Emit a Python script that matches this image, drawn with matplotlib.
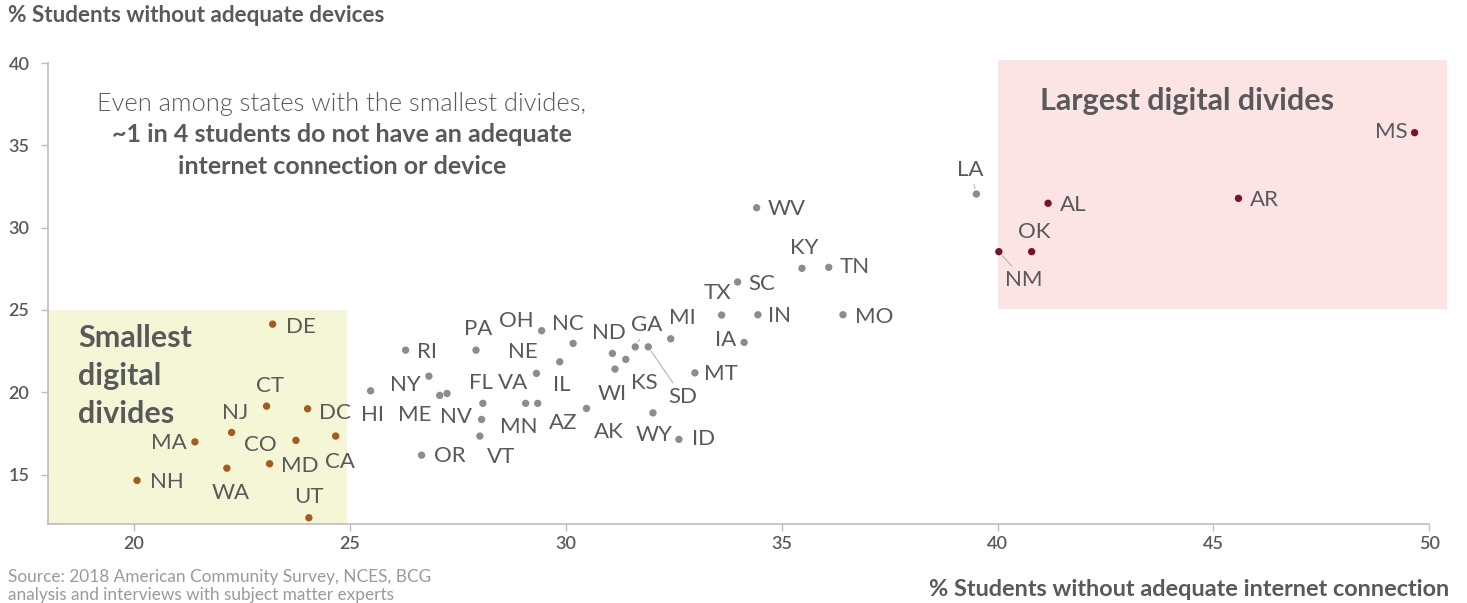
import matplotlib.pyplot as plt
from matplotlib.patches import Rectangle

plt.rcParams['font.family'] = ['Lato', 'DejaVu Sans']

# % students without adequate internet connection (x) / devices (y)
small_states = ['DE', 'CT', 'DC', 'NJ', 'MA', 'CO', 'CA', 'MD', 'WA', 'NH', 'UT']
small_x = [23.21, 23.07, 24.02, 22.26, 21.41, 23.75, 24.67, 23.14, 22.15, 20.07, 24.05]
small_y = [24.14, 19.16, 19.00, 17.56, 16.99, 17.08, 17.34, 15.66, 15.39, 14.65, 12.38]

large_states = ['AL', 'AR', 'NM', 'OK', 'MS']
large_x = [41.17, 45.58, 40.03, 40.79, 49.66]
large_y = [31.48, 31.78, 28.54, 28.54, 35.77]

mid_states = ['LA', 'WV', 'KY', 'TN', 'SC', 'TX', 'IN', 'MO', 'IA', 'MI', 'GA', 'SD',
              'MT', 'WY', 'ID', 'ND', 'KS', 'WI', 'AK', 'AZ', 'IL', 'NE', 'VA', 'NC',
              'OH', 'PA', 'RI', 'NY', 'HI', 'ME', 'NV', 'FL', 'MN', 'VT', 'OR']
mid_x = [39.51, 34.42, 35.47, 36.09, 33.98, 33.61, 34.45, 36.42, 34.13, 32.43, 31.61, 31.91,
         32.99, 32.02, 32.62, 31.08, 31.39, 31.14, 30.48, 29.35, 29.86, 29.32, 29.07, 30.17,
         29.44, 27.92, 26.29, 26.83, 25.48, 27.08, 27.25, 28.08, 28.05, 28.01, 26.66]
mid_y = [32.04, 31.21, 27.53, 27.59, 26.70, 24.69, 24.71, 24.71, 23.03, 23.25, 22.76, 22.76,
         21.18, 18.75, 17.14, 22.36, 22.00, 21.41, 19.02, 19.33, 21.85, 21.15, 19.33, 22.97,
         23.74, 22.56, 22.56, 20.98, 20.09, 19.81, 19.93, 19.33, 18.35, 17.34, 16.18]

# label offsets from the dot, in pixels (layout only)
label_off = {
    'DE': (28.7, -2.7), 'CT': (3.3, 20), 'DC': (27.3, -4.6), 'NJ': (3.3, 19.6),
    'MA': (-25.8, -1), 'CO': (-36, -4.7), 'CA': (4, -25.7), 'MD': (30, -2),
    'WA': (3.5, -24.7), 'NH': (29.4, -1.4), 'UT': (0.4, 21),
    'AL': (24.7, -1.7), 'AR': (25.6, -1.7), 'NM': (25.2, -28.3), 'OK': (3, 20), 'MS': (-23.3, 1),
    'LA': (-6, 24), 'WV': (30.3, -1.6), 'KY': (1.9, 20), 'TN': (25.6, 0), 'SC': (24, -2),
    'TX': (-4.5, 21.7), 'IN': (21.2, -1.3), 'MO': (31.4, -2.6), 'IA': (-18.1, 2.6),
    'MI': (11.5, 20.4), 'GA': (11.8, 21.7), 'SD': (34.2, -50), 'MT': (25.8, -1.3),
    'WY': (0.9, -22.3), 'ID': (24.9, 0), 'ND': (-3, 20.6), 'KS': (19, -23.4),
    'WI': (-2.5, -25), 'AK': (22.5, -23.4), 'AZ': (25.3, -20), 'IL': (2.5, -23.3),
    'NE': (-13.5, 21.6), 'VA': (-12.7, 20), 'NC': (-5, 19.3), 'OH': (-25.3, 10),
    'PA': (2.7, 20.7), 'RI': (21.8, -1.7), 'NY': (-23.5, -9), 'HI': (1.8, -24.3),
    'ME': (-25, -19.7), 'NV': (8.5, -24), 'FL': (-1.6, 20.6), 'MN': (37.5, -7.4),
    'VT': (21.7, -21.3), 'OR': (28.3, -1),
}
leader = ['SD', 'NM', 'GA', 'LA']

text_col = '#58595b'
fig = plt.figure(figsize=(14.67, 6.03), dpi=100)
ax = fig.add_axes([0.0325, 0.131, 0.9418, 0.7645])

ax.add_patch(Rectangle((18, 12), 6.93, 13, facecolor='#f4f6d6', edgecolor='none', zorder=0))
ax.add_patch(Rectangle((40, 25.05), 10.42, 15.15, facecolor='#fce4e5', edgecolor='none',
                       zorder=0, clip_on=False))

groups = [(small_states, small_x, small_y, '#a65a1b'),
          (mid_states, mid_x, mid_y, '#8c8c8c'),
          (large_states, large_x, large_y, '#7b1030')]
for names, xs, ys, col in groups:
    ax.scatter(xs, ys, s=28, color=col, edgecolor='none', zorder=3, clip_on=False)
    for n, x, y in zip(names, xs, ys):
        arrow = None
        if n in leader:
            arrow = dict(arrowstyle='-', color='#b5b5b5', lw=0.8, shrinkA=1, shrinkB=4)
        ax.annotate(n, (x, y), xytext=label_off[n], textcoords='offset pixels',
                    ha='center', va='center', fontsize=16, color=text_col,
                    arrowprops=arrow, zorder=4)

ax.text(18.7, 20.98, 'Smallest\ndigital\ndivides', fontsize=22, fontweight='bold',
        color=text_col, ha='left', va='center', linespacing=1.42)
ax.text(40.98, 37.69, 'Largest digital divides', fontsize=22, fontweight='bold',
        color=text_col, ha='left', va='center')
ax.text(24.81, 37.51, 'Even among states with the smallest divides,', fontsize=18.3,
        fontweight=300, color=text_col, ha='center', va='center')
ax.text(24.81, 35.63, '~1 in 4 students do not have an adequate', fontsize=18,
        fontweight='bold', color=text_col, ha='center', va='center')
ax.text(24.81, 33.74, 'internet connection or device', fontsize=18,
        fontweight='bold', color=text_col, ha='center', va='center')

ax.set_xlim(18, 50)
ax.set_ylim(12, 40)
ax.set_xticks([20, 25, 30, 35, 40, 45, 50])
ax.set_yticks([15, 20, 25, 30, 35, 40])
for s in ['top', 'right']:
    ax.spines[s].set_visible(False)
for s in ['left', 'bottom']:
    ax.spines[s].set_color('#bdbdbd')
    ax.spines[s].set_linewidth(1.2)
ax.tick_params(colors='#bdbdbd', labelcolor=text_col, labelsize=13, length=5, width=1)
ax.tick_params(axis='y', pad=8)
for lab in ax.get_xticklabels() + ax.get_yticklabels():
    lab.set_fontweight('semibold')

fig.text(0.0055, 0.9735, '% Students without adequate devices', fontsize=16.2,
         fontweight='bold', color=text_col, ha='left', va='center')
fig.text(0.988, 0.022, '% Students without adequate internet connection', fontsize=16.9,
         fontweight='bold', color=text_col, ha='right', va='center')
fig.text(0.0055, 0.056, 'Source: 2018 American Community Survey, NCES, BCG\n'
         'analysis and interviews with subject matter experts', fontsize=12.4,
         color='#9a9a9a', ha='left', va='top', linespacing=1.1)

fig.savefig('out.png', dpi=100)
